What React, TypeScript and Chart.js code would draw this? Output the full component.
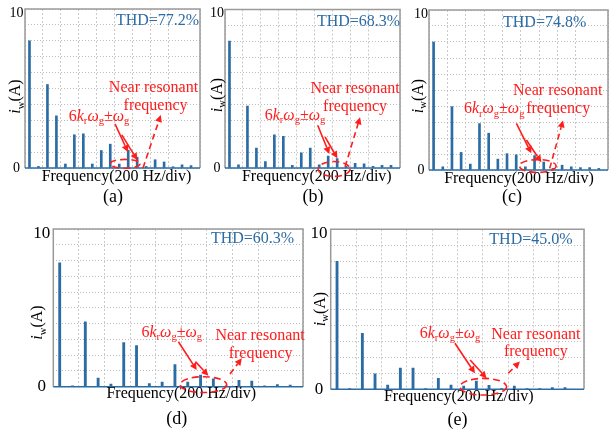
import React, { useEffect, useRef } from "react";
import { Chart, registerables } from "chart.js";

Chart.register(...registerables);

const W = 609;
const H = 435;
const FONT = '"Liberation Serif", "Times New Roman", serif';
const BLUE = "#2c6ca5";
const RED = "#ff1c1c";

// Harmonic frequencies (Hz) of the spectra
const HARMONIC_HZ = [50, 150, 250, 350, 450, 550, 650, 750, 850, 950, 1050, 1150, 1250, 1350, 1450, 1550, 1650, 1750, 1850];

// Amplitudes (A) for each panel
const AMP_A = [8.0, 0.1, 5.25, 3.28, 0.25, 2.09, 2.15, 0.25, 1.1, 1.5, 0.25, 1.12, 0.68, 0.1, 0.52, 0.38, 0.08, 0.2, 0.15];
const AMP_B = [8.0, 0.2, 3.9, 1.25, 0.4, 2.1, 2.0, 0.17, 0.95, 1.25, 0.2, 0.75, 0.6, 0.1, 0.3, 0.27, 0.1, 0.17, 0.17];
const AMP_C = [8.0, 0.2, 3.96, 1.1, 0.37, 2.9, 2.3, 0.68, 1.02, 0.95, 0.2, 0.9, 0.5, 0.1, 0.3, 0.2, 0.15, 0.15, 0.1];
const AMP_D = [7.86, 0.05, 4.12, 0.55, 0.17, 2.8, 2.6, 0.2, 0.3, 1.4, 0.3, 0.74, 0.5, 0.05, 0.4, 0.36, 0.05, 0.13, 0.1];
const AMP_E = [8.0, 0.05, 3.5, 0.96, 0.27, 1.33, 1.33, 0.05, 0.69, 0.27, 0.2, 0.52, 0.25, 0.05, 0.2, 0.05, 0.05, 0.1, 0.1];

const THD_TEXT = ["THD=77.2%", "THD=68.3%", "THD=74.8%", "THD=60.3%", "THD=45.0%"];
const PANEL_TAGS = ["(a)", "(b)", "(c)", "(d)", "(e)"];
const X_TITLE = "Frequency(200 Hz/div)";
const Y_TICKS = [0, 10];
const X_MAX_HZ = [1950, 1950, 1950, 1950, 2000];
const X_STEP_HZ = 200;
const NEAR_LINE1 = "Near resonant";
const NEAR_LINE2 = "frequency";

type Seg = { t: string; it?: boolean; sub?: boolean };
const SIXK: Seg[] = [
  { t: "6" }, { t: "k", it: true }, { t: "r", sub: true }, { t: "\u03c9", it: true }, { t: "g", sub: true },
  { t: "\u00b1" }, { t: "\u03c9", it: true }, { t: "g", sub: true },
];
const Y_TITLE: Seg[] = [{ t: "i", it: true }, { t: "w", sub: true }, { t: "(A)" }];

type Ann = {
  thd: number[]; near: number[]; freq: number[]; sixk: number[];
  solid: number[][]; dashed: number[]; ell: number[];
};

type PanelCfg = {
  amps: number[]; thd: string; tag: string; xmax: number;
  box: { L: number; T: number; R: number; B: number };
  tickSize: number; tickDx: number;
  yLab: number[]; xTitle: number[]; tagPos: number[];
  barW: number;
  ann: Ann;
};

const PANELS: PanelCfg[] = [
  {
    amps: AMP_A, thd: THD_TEXT[0], tag: PANEL_TAGS[0], xmax: X_MAX_HZ[0],
    box: { L: 25, T: 9, R: 200, B: 168 }, tickSize: 14, tickDx: 8.5,
    yLab: [16.5, 96.5], xTitle: [116.5, 181], tagPos: [113, 202], barW: 2,
    ann: {
      thd: [1477, 8.97], near: [1432, 4.76], freq: [1455, 3.67], sixk: [825, 2.97],
      solid: [[1003, 2.77, 1148, 1.0], [1078, 2.08, 1252, 0.5]],
      dashed: [1315, 0.0, 1513, 3.33], ell: [1115, 0.26, 167, 0.28],
    },
  },
  {
    amps: AMP_B, thd: THD_TEXT[1], tag: PANEL_TAGS[1], xmax: X_MAX_HZ[1],
    box: { L: 225, T: 9.5, R: 400, B: 168 }, tickSize: 14, tickDx: 8,
    yLab: [218, 95], xTitle: [316.8, 181], tagPos: [313, 202], barW: 2,
    ann: {
      thd: [1488, 8.97], near: [1449, 4.76], freq: [1449, 3.6], sixk: [780, 3.04],
      solid: [[1033, 2.7, 1163, 0.88], [1115, 1.97, 1252, 0.61]],
      dashed: [1338, 0.08, 1505, 3.2], ell: [1215, -0.06, 178, 0.47],
    },
  },
  {
    amps: AMP_C, thd: THD_TEXT[2], tag: PANEL_TAGS[2], xmax: X_MAX_HZ[2],
    box: { L: 429, T: 10, R: 608, B: 170 }, tickSize: 14, tickDx: 8,
    yLab: [419, 96], xTitle: [519, 183], tagPos: [512, 202], barW: 2,
    ann: {
      thd: [1260, 8.94], near: [1402, 4.67], freq: [1407, 3.55], sixk: [710, 3.55],
      solid: [[952, 2.92, 1115, 1.04], [1061, 1.875, 1224, 0.48]],
      dashed: [1315, 0.1, 1460, 3.1], ell: [1185, 0.25, 200, 0.4],
    },
  },
  {
    amps: AMP_D, thd: THD_TEXT[3], tag: PANEL_TAGS[3], xmax: X_MAX_HZ[3],
    box: { L: 53.3, T: 229, R: 303, B: 386.7 }, tickSize: 17, tickDx: 11.6,
    yLab: [38.5, 322.5], xTitle: [181.3, 398], tagPos: [176.7, 424], barW: 2.2,
    ann: {
      thd: [1556, 9.09], near: [1615, 2.94], freq: [1619, 1.82], sixk: [925, 3.17],
      solid: [[977, 2.85, 1120, 1.06], [1110, 1.59, 1211, 0.7]],
      dashed: [1380, 0.8, 1472, 1.8], ell: [1172, 0.13, 182, 0.5],
    },
  },
  {
    amps: AMP_E, thd: THD_TEXT[4], tag: PANEL_TAGS[4], xmax: X_MAX_HZ[4],
    box: { L: 330.7, T: 229.3, R: 584, B: 389.3 }, tickSize: 17, tickDx: 11.7,
    yLab: [321, 309], xTitle: [458.8, 401.4], tagPos: [457.5, 425], barW: 2.2,
    ann: {
      thd: [1581, 9.06], near: [1620, 3.17], freq: [1620, 2.06], sixk: [942, 3.23],
      solid: [[981, 2.88, 1139, 1.0], [1101, 1.83, 1231, 0.69]],
      dashed: [1402, 1.0, 1494, 1.73], ell: [1205, 0.16, 184, 0.52],
    },
  },
];

function fontOf(size: number, italic?: boolean) {
  return `${italic ? "italic " : ""}${size}px ${FONT}`;
}

// draws rich text with baseline at y, centered at x
function drawRich(ctx: CanvasRenderingContext2D, segs: Seg[], x: number, y: number, size: number, color: string) {
  const subSize = size * 0.66;
  let total = 0;
  const widths: number[] = [];
  for (const s of segs) {
    ctx.font = fontOf(s.sub ? subSize : size, s.it);
    const w = ctx.measureText(s.t).width;
    widths.push(w);
    total += w;
  }
  let cx = x - total / 2;
  ctx.fillStyle = color;
  ctx.textAlign = "left";
  ctx.textBaseline = "alphabetic";
  segs.forEach((s, i) => {
    ctx.font = fontOf(s.sub ? subSize : size, s.it);
    ctx.fillText(s.t, cx, s.sub ? y + size * 0.22 : y);
    cx += widths[i];
  });
}

function drawText(ctx: CanvasRenderingContext2D, t: string, x: number, y: number, size: number, color: string) {
  ctx.font = fontOf(size);
  ctx.fillStyle = color;
  ctx.textAlign = "center";
  ctx.textBaseline = "alphabetic";
  ctx.fillText(t, x, y);
}

function drawArrow(ctx: CanvasRenderingContext2D, x1: number, y1: number, x2: number, y2: number, dashed: boolean) {
  const ang = Math.atan2(y2 - y1, x2 - x1);
  const head = 7;
  const hw = 3.5;
  const bx = x2 - head * Math.cos(ang);
  const by = y2 - head * Math.sin(ang);
  ctx.strokeStyle = RED;
  ctx.fillStyle = RED;
  ctx.lineWidth = 1.6;
  ctx.setLineDash(dashed ? [6, 4] : []);
  ctx.beginPath();
  ctx.moveTo(x1, y1);
  ctx.lineTo(bx, by);
  ctx.stroke();
  ctx.setLineDash([]);
  ctx.beginPath();
  ctx.moveTo(x2, y2);
  ctx.lineTo(bx + hw * Math.sin(ang), by - hw * Math.cos(ang));
  ctx.lineTo(bx - hw * Math.sin(ang), by + hw * Math.cos(ang));
  ctx.closePath();
  ctx.fill();
}

function makeOverlay(cfg: PanelCfg) {
  return {
    id: "overlay",
    afterDraw(chart: any) {
      const ctx: CanvasRenderingContext2D = chart.ctx;
      const xs = chart.scales.x;
      const ys = chart.scales.y;
      const a = chart.chartArea;
      const px = (v: number) => xs.getPixelForValue(v);
      const py = (v: number) => ys.getPixelForValue(v);
      ctx.save();
      // frame
      ctx.setLineDash([]);
      ctx.strokeStyle = "#9a9a9a";
      ctx.lineWidth = 1.5;
      ctx.beginPath();
      ctx.moveTo(a.left, a.bottom);
      ctx.lineTo(a.left, a.top);
      ctx.lineTo(a.right, a.top);
      ctx.lineTo(a.right, a.bottom);
      ctx.stroke();
      ctx.strokeStyle = BLUE;
      ctx.lineWidth = 1.6;
      ctx.beginPath();
      ctx.moveTo(a.left, py(0));
      ctx.lineTo(a.right, py(0));
      ctx.stroke();

      // y tick labels
      for (const v of Y_TICKS) {
        const c = v === 10 ? py(v) + 3 : py(v) - 1;
        drawText(ctx, String(v), a.left - cfg.tickDx, c + cfg.tickSize * 0.33, cfg.tickSize, "#000");
      }
      // y title (rotated)
      ctx.save();
      ctx.translate(cfg.yLab[0] + 3.7, cfg.yLab[1]);
      ctx.rotate(-Math.PI / 2);
      drawRich(ctx, Y_TITLE, 0, 0, 16, "#000");
      ctx.restore();
      // x title and tag
      drawText(ctx, X_TITLE, cfg.xTitle[0], cfg.xTitle[1], 16, "#000");
      drawText(ctx, cfg.tag, cfg.tagPos[0], cfg.tagPos[1], 18, "#000");

      // THD
      const an = cfg.ann;
      drawText(ctx, cfg.thd, px(an.thd[0]), py(an.thd[1]), 16, BLUE);

      // annotations
      drawText(ctx, NEAR_LINE1, px(an.near[0]), py(an.near[1]), 16, RED);
      drawText(ctx, NEAR_LINE2, px(an.freq[0]), py(an.freq[1]), 16, RED);
      drawRich(ctx, SIXK, px(an.sixk[0]), py(an.sixk[1]), 16, RED);
      for (const s of an.solid) drawArrow(ctx, px(s[0]), py(s[1]), px(s[2]), py(s[3]), false);
      const d = an.dashed;
      drawArrow(ctx, px(d[0]), py(d[1]), px(d[2]), py(d[3]), true);
      const e = an.ell;
      const ecx = px(e[0]);
      const ecy = py(e[1]);
      const erx = Math.abs(px(e[0] + e[2]) - ecx);
      const ery = Math.abs(py(e[1] + e[3]) - ecy);
      ctx.strokeStyle = RED;
      ctx.lineWidth = 1.6;
      ctx.setLineDash([7, 4]);
      ctx.beginPath();
      ctx.ellipse(ecx, ecy, erx, ery, 0, 0, Math.PI * 2);
      ctx.stroke();
      ctx.restore();
    },
  };
}

function Panel({ cfg }: { cfg: PanelCfg }) {
  const ref = useRef<HTMLCanvasElement>(null);
  useEffect(() => {
    const { L, T, R, B } = cfg.box;
    const chart = new Chart(ref.current as HTMLCanvasElement, {
      type: "bar",
      data: {
        datasets: [
          {
            data: HARMONIC_HZ.map((x, i) => ({ x, y: cfg.amps[i] })),
            backgroundColor: BLUE,
            borderWidth: 0,
            barThickness: cfg.barW,
          } as any,
        ],
      },
      options: {
        animation: false,
        responsive: false,
        devicePixelRatio: 1,
        events: [],
        layout: { padding: { left: L, top: T, right: W - R, bottom: H - B } },
        plugins: { legend: { display: false }, tooltip: { enabled: false }, title: { display: false } },
        scales: {
          x: {
            type: "linear",
            min: 0,
            max: cfg.xmax,
            offset: false,
            ticks: { display: false, stepSize: X_STEP_HZ },
            grid: { color: "#c9c9c9", lineWidth: 1, drawTicks: false, offset: false },
            border: { display: false, dash: [2, 2] },
            afterFit: (s: any) => { s.height = 0; },
          },
          y: {
            min: 0,
            max: 10,
            ticks: { display: false, stepSize: 1 },
            grid: { color: "#bdbdbd", lineWidth: 1, drawTicks: false },
            border: { display: false, dash: [1, 2] },
            afterFit: (s: any) => { s.width = 0; },
          },
        },
      } as any,
      plugins: [makeOverlay(cfg)],
    });
    return () => chart.destroy();
  }, [cfg]);
  return (
    <canvas
      ref={ref}
      width={W}
      height={H}
      style={{ position: "absolute", left: 0, top: 0, width: W, height: H }}
    />
  );
}

export default function App() {
  return (
    <div style={{ position: "absolute", left: 0, top: 0, width: W, height: H, background: "#fff" }}>
      {PANELS.map((p, i) => (
        <Panel key={i} cfg={p} />
      ))}
    </div>
  );
}
